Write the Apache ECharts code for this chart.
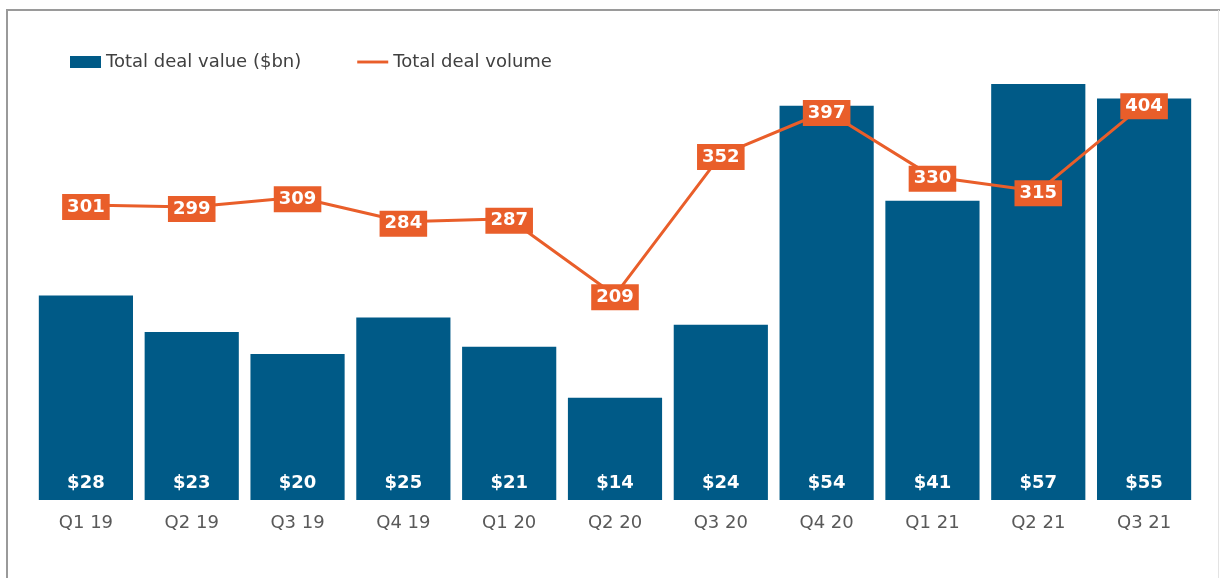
<!DOCTYPE html>
<html>
<head>
<meta charset="utf-8">
<script src="https://cdn.jsdelivr.net/npm/echarts@6/dist/echarts.min.js"></script>
<style>
html, body { margin: 0; padding: 0; background: #fff; }
#main { width: 1220px; height: 578px; }
</style>
</head>
<body>
<div id="main"></div>
<script>
// quarters and values
var quarters = ['Q1 19', 'Q2 19', 'Q3 19', 'Q4 19', 'Q1 20', 'Q2 20', 'Q3 20', 'Q4 20', 'Q1 21', 'Q2 21', 'Q3 21'];
var dealValue = [28, 23, 20, 25, 21, 14, 24, 54, 41, 57, 55];
var dealVolume = [301, 299, 309, 284, 287, 209, 352, 397, 330, 315, 404];

var BLUE = '#005a87';
var ORANGE = '#e95e2a';
var FONT = '"DejaVu Sans", "Liberation Sans", sans-serif';

var chart = echarts.init(document.getElementById('main'));
var option = {
    animation: false,
    textStyle: { fontFamily: FONT },
    graphic: [
        // frame round the chart
        { type: 'line', shape: { x1: 6, y1: 10, x2: 1220, y2: 10 }, style: { stroke: '#9a9a9a', lineWidth: 2 } },
        { type: 'line', shape: { x1: 7, y1: 9, x2: 7, y2: 578 }, style: { stroke: '#9a9a9a', lineWidth: 2 } },
        { type: 'line', shape: { x1: 1218.5, y1: 10, x2: 1218.5, y2: 578 }, style: { stroke: '#e3e3e3', lineWidth: 1 } }
    ],
    legend: {
        left: 65,
        top: 48,
        itemGap: 56,
        itemWidth: 31,
        itemHeight: 12,
        textStyle: { color: '#404040', fontSize: 18, fontFamily: FONT },
        data: [
            { name: 'Total deal value ($bn)', icon: 'rect' },
            { name: 'Total deal volume', icon: 'path://M0,0 L32,0 L32,3 L0,3 Z', itemHeight: 3 }
        ]
    },
    grid: { left: 33, right: 23, top: 62, bottom: 78 },
    xAxis: {
        type: 'category',
        data: quarters,
        axisLine: { show: false },
        axisTick: { show: false },
        axisLabel: { color: '#595959', fontSize: 18, margin: 14, fontFamily: FONT }
    },
    yAxis: [
        { type: 'value', min: 0, max: 60, show: false, splitLine: { show: false } },
        { type: 'value', min: 0, max: 447, show: false, splitLine: { show: false } }
    ],
    series: [
        {
            name: 'Total deal value ($bn)',
            type: 'bar',
            data: dealValue,
            barCategoryGap: '11%',
            itemStyle: { color: BLUE },
            label: {
                show: true,
                position: 'insideBottom',
                distance: 8,
                color: '#fff',
                fontSize: 18,
                fontWeight: 'bold',
                fontFamily: FONT,
                formatter: function (p) { return '$' + p.value; }
            }
        },
        {
            name: 'Total deal volume',
            type: 'line',
            yAxisIndex: 1,
            data: dealVolume,
            symbol: 'circle',
            symbolSize: 1,
            lineStyle: { color: ORANGE, width: 3 },
            itemStyle: { color: ORANGE },
            z: 5,
            label: {
                show: true,
                position: 'inside',
                offset: [0, 2],
                color: '#fff',
                fontSize: 18,
                fontWeight: 'bold',
                fontFamily: FONT,
                backgroundColor: ORANGE,
                padding: [5, 5, 3, 5]
            }
        }
    ]
};
chart.setOption(option);
</script>
</body>
</html>
